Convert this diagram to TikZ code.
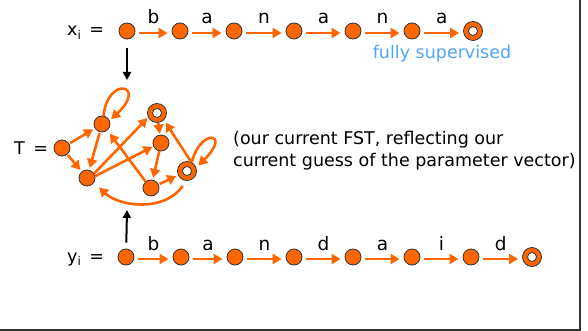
\documentclass[tikz,border=0pt]{standalone}
\usepackage{fontspec}
\setmainfont{DejaVu Sans}
\usetikzlibrary{arrows.meta}
\definecolor{fsto}{HTML}{FF6600}
\definecolor{supblue}{HTML}{4DA6FF}
\definecolor{rim}{HTML}{333333}
\begin{document}
\begin{tikzpicture}[x=1pt,y=-1pt,
  st/.style={circle,draw=rim,fill=fsto,line width=0.8pt,minimum size=16pt,inner sep=0pt},
  fin/.style={circle,draw=rim,fill=fsto,line width=0.8pt,minimum size=19pt,inner sep=0pt,
     path picture={\draw[rim,fill=white,line width=0.8pt] (path picture bounding box.center) circle (4.5pt);}},
  arr/.style={draw=fsto,line width=2.6pt,-{Triangle[length=9pt,width=10pt]}},
  chain/.style={arr,shorten >=4pt,shorten <=4pt},
  blk/.style={draw=black,line width=2pt,-{Triangle[length=8pt,width=8pt]}},
  lab/.style={font=\fontsize{18.5}{22}\selectfont,anchor=base,yshift=9pt,midway,inner sep=0pt},
  txt/.style={font=\fontsize{17.5}{21}\selectfont,inner sep=0pt},
]
\useasboundingbox (0,0) rectangle (588,331);
\draw[rim,line width=2pt] (580,0) -- (580,330) -- (0,330);

% top row
\node[txt,anchor=base west] (xl) at (67,36) {x\raisebox{-0.4ex}{\fontsize{12}{12}\selectfont i}\, =};
\node[st] (x1) at (127,31) {};
\node[st] (x2) at (180,31) {};
\node[st] (x3) at (234,31) {};
\node[st] (x4) at (294,31) {};
\node[st] (x5) at (353,31) {};
\node[st] (x6) at (412,31) {};
\node[fin] (x7) at (473,31) {};
\draw[chain] ([yshift=-2pt]x1.east) -- node[lab]{b} ([yshift=-2pt]x2.west);
\draw[chain] ([yshift=-2pt]x2.east) -- node[lab]{a} ([yshift=-2pt]x3.west);
\draw[chain] ([yshift=-2pt]x3.east) -- node[lab]{n} ([yshift=-2pt]x4.west);
\draw[chain] ([yshift=-2pt]x4.east) -- node[lab]{a} ([yshift=-2pt]x5.west);
\draw[chain] ([yshift=-2pt]x5.east) -- node[lab]{n} ([yshift=-2pt]x6.west);
\draw[chain] ([yshift=-2pt]x6.east) -- node[lab]{a} ([yshift=-2pt]x7.west);
\node[txt,text=supblue,anchor=base] (fs) at (442,59) {fully supervised};

% bottom row
\node[txt,anchor=base west] (yl) at (67,262) {y\raisebox{-0.4ex}{\fontsize{12}{12}\selectfont i}\, =};
\node[st] (y1) at (126,257) {};
\node[st] (y2) at (181,257) {};
\node[st] (y3) at (235,257) {};
\node[st] (y4) at (294,257) {};
\node[st] (y5) at (353,257) {};
\node[st] (y6) at (412,257) {};
\node[st] (y7) at (471,257) {};
\node[fin] (y8) at (532,257) {};
\draw[chain] ([yshift=-2pt]y1.east) -- node[lab]{b} ([yshift=-2pt]y2.west);
\draw[chain] ([yshift=-2pt]y2.east) -- node[lab]{a} ([yshift=-2pt]y3.west);
\draw[chain] ([yshift=-2pt]y3.east) -- node[lab]{n} ([yshift=-2pt]y4.west);
\draw[chain] ([yshift=-2pt]y4.east) -- node[lab]{d} ([yshift=-2pt]y5.west);
\draw[chain] ([yshift=-2pt]y5.east) -- node[lab]{a} ([yshift=-2pt]y6.west);
\draw[chain] ([yshift=-2pt]y6.east) -- node[lab]{i} ([yshift=-2pt]y7.west);
\draw[chain] ([yshift=-2pt]y7.east) -- node[lab]{d} ([yshift=-2pt]y8.west);

% black arrows
\coordinate (tdown) at (127,80);
\coordinate (tup) at (127,210);
\draw[blk,shorten <=9pt] (x1) -- (tdown);
\draw[blk,shorten <=6pt] (y1) -- (tup);

% graph T
\node[txt,anchor=base west] (tl) at (14,154) {T\, =};
\node[st] (A) at (62,148) {};
\node[st] (B) at (102,124) {};
\node[st] (C) at (87,178) {};
\node[fin] (D) at (157,113) {};
\node[st] (E) at (161,143) {};
\node[fin] (F) at (187,171) {};
\node[st] (G) at (151,188) {};

\draw[arr,shorten >=2pt,shorten <=1pt] (A) -- (B);
\draw[arr,shorten >=2pt,shorten <=1pt] (A) -- (C);
\draw[arr,shorten >=2pt,shorten <=1pt] (B) -- (C);
\draw[arr,shorten >=2pt] (B.80) .. controls (108,75) and (148,85) .. (B.25);
\draw[arr,shorten >=1pt] (C.32) -- (D.206);
\draw[arr,shorten >=1pt] (C.13) -- (E.204);
\draw[arr,shorten >=1pt] (D) -- (E);
\draw[arr,shorten >=2pt] (E) -- (G);
\draw[arr,shorten >=2pt,shorten <=1pt] (G) -- (F);
\draw[arr,shorten >=3pt] (F.65) -- (D.-45);
\draw[arr,shorten >=3pt] (F.61) .. controls (200,128) and (232,132) .. (F.20);
\draw[arr,shorten >=4pt] (G.130) -- (B.-50);
\draw[arr,shorten <=6pt,shorten >=7pt] (F.-95) .. controls (165,212) and (120,207) .. (C.-35);

% comment text
\node[txt,anchor=base west] (cm) at (233,145) {(our current FST, reflecting our};
\node[txt,anchor=base west] (cm2) at (233,166) {current guess of the parameter vector)};
\end{tikzpicture}
\end{document}
